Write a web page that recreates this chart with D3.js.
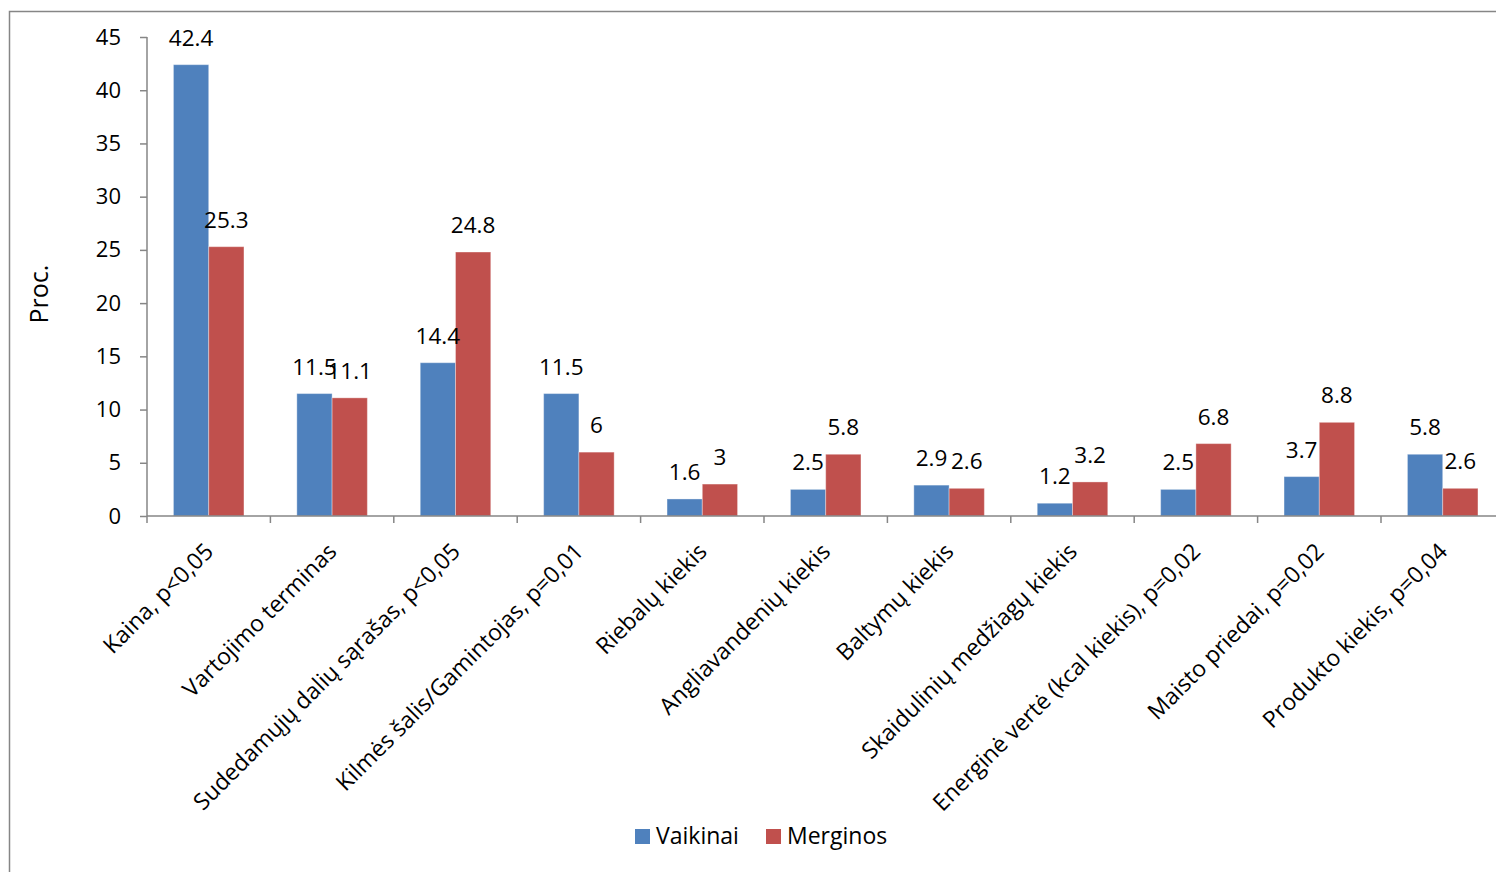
<!DOCTYPE html>
<html><head><meta charset="utf-8">
<script src="https://cdn.jsdelivr.net/npm/d3@7"></script>
<style>body{margin:0;background:#fff;} svg{display:block;} text{font-family:"Open Sans",sans-serif;fill:#000;}</style>
</head><body><svg id="c" width="1496" height="872"></svg>
<script>
const categories = ["Kaina, p<0,05","Vartojimo terminas","Sudedamųjų dalių sąrašas, p<0,05","Kilmės šalis/Gamintojas, p=0,01","Riebalų kiekis","Angliavandenių kiekis","Baltymų kiekis","Skaidulinių medžiagų kiekis","Energinė vertė (kcal kiekis), p=0,02","Maisto priedai, p=0,02","Produkto kiekis, p=0,04"];
const vaikinai = [42.4,11.5,14.4,11.5,1.6,2.5,2.9,1.2,2.5,3.7,5.8];
const merginos = [25.3,11.1,24.8,6,3,5.8,2.6,3.2,6.8,8.8,2.6];
const seriesNames = ["Vaikinai","Merginos"];
const colors = ["#4f81bd","#c0504d"];
const yTicks = [0,5,10,15,20,25,30,35,40,45];

const svg = d3.select("#c");
svg.append("rect").attr("x",9.5).attr("y",11.5).attr("width",2000).attr("height",2000)
  .attr("fill","none").attr("stroke","#868686").attr("stroke-width",1.5);

const pLeft = 147, pBottom = 516, pTop = 37, catW = 123.4;
const x = d3.scaleBand().domain(categories).range([pLeft, pLeft + catW*categories.length]).paddingInner(0).paddingOuter(0);
const y = d3.scaleLinear().domain([0,45]).range([pBottom, pTop]);
const bw = catW/3.5;
const data = categories.flatMap((c,i)=>[vaikinai[i], merginos[i]].map((v,s)=>({c, v, s})));
const bx = d => x(d.c) + catW/2 - bw + d.s*bw;

const barsG = svg.append("g");
barsG.selectAll("rect").data(data).join("rect")
  .attr("x",bx).attr("y",d=>y(d.v)).attr("width",bw).attr("height",d=>y(0)-y(d.v))
  .attr("fill",d=>colors[d.s]).attr("stroke","#fff").attr("stroke-opacity",0.35).attr("stroke-width",1);

const ya = svg.append("g").attr("transform",`translate(${pLeft},0)`)
  .call(d3.axisLeft(y).tickValues(yTicks).tickSize(7).tickPadding(19).tickFormat(d3.format("d")));
ya.select(".domain").attr("stroke","#868686").attr("stroke-width",1.5).attr("d",`M0,${pTop}H0V${pBottom}`);
ya.selectAll(".tick line").attr("stroke","#868686").attr("stroke-width",1.5);
ya.selectAll(".tick text").attr("font-size",22).attr("font-family","Open Sans").attr("fill","#000");

const xa = svg.append("g").attr("transform",`translate(0,${pBottom})`);
xa.append("line").attr("x1",pLeft).attr("x2",1500).attr("y1",0).attr("y2",0).attr("stroke","#868686").attr("stroke-width",1.5);
xa.selectAll("line.tk").data(categories).join("line").attr("class","tk")
  .attr("x1",d=>x(d)).attr("x2",d=>x(d)).attr("y1",0).attr("y2",7).attr("stroke","#868686").attr("stroke-width",1.5);
xa.selectAll("text").data(categories).join("text").attr("text-anchor","end").attr("font-size",23)
  .attr("transform",d=>`translate(${x(d)+catW/2+6},37) rotate(-45)`).text(d=>d);

const labelsG = svg.append("g");
labelsG.selectAll("text").data(data).join("text")
  .attr("x",d=>bx(d)+bw/2).attr("y",d=>y(d.v)-19).attr("text-anchor","middle")
  .attr("font-size",22.5).text(d=>String(d.v));

svg.append("text").attr("transform","translate(48,294) rotate(-90)").attr("text-anchor","middle").attr("font-size",25).text("Proc.");

const lg = svg.append("g");
const lx = [635, 766];
seriesNames.forEach((n,i)=>{
  lg.append("rect").attr("x",lx[i]).attr("y",829).attr("width",15).attr("height",15).attr("fill",colors[i]);
  lg.append("text").attr("x",lx[i]+21).attr("y",844).attr("font-size",23).text(n);
});
</script></body></html>
